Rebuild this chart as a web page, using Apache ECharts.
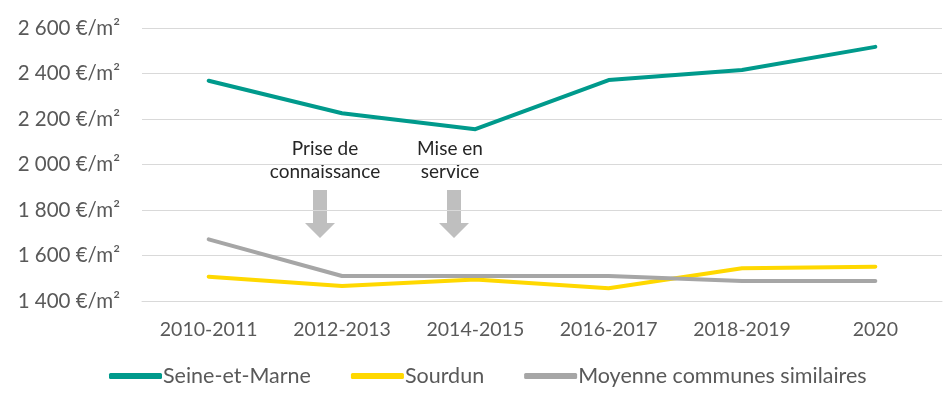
<!DOCTYPE html>
<html>
<head>
<meta charset="utf-8">
<script src="https://cdn.jsdelivr.net/npm/echarts@6/dist/echarts.min.js"></script>
<style>
  html, body { margin: 0; padding: 0; background: #ffffff; }
  #chart { width: 944px; height: 397px; }
</style>
</head>
<body>
<div id="chart"></div>
<script>
// Prix moyen au m² par période
const categories = ['2010-2011', '2012-2013', '2014-2015', '2016-2017', '2018-2019', '2020'];
const seineEtMarne = [2368, 2225, 2155, 2371, 2415, 2517];
const sourdun = [1507, 1466, 1495, 1456, 1544, 1551];
const moyenneCommunes = [1671, 1510, 1510, 1510, 1488, 1488];
const yTicks = [1400, 1600, 1800, 2000, 2200, 2400, 2600];

const FONT = 'Lato';

function fmtEuro(v) {
  return String(v).replace(/\B(?=(\d{3})+(?!\d))/g, ' ') + ' €/m²';
}

function lineSeries(name, data, color) {
  return {
    name: name,
    type: 'line',
    data: data,
    symbol: 'none',
    lineStyle: { width: 4, color: color, cap: 'round', join: 'round' },
    itemStyle: { color: color },
    z: name === 'Seine-et-Marne' ? 3 : 2
  };
}

// Flèche grise pointant vers le bas
function downArrow(cx, top) {
  return {
    type: 'polygon',
    shape: {
      points: [
        [cx - 7, top], [cx + 7, top], [cx + 7, top + 33],
        [cx + 15, top + 33], [cx, top + 48], [cx - 15, top + 33],
        [cx - 7, top + 33]
      ]
    },
    style: { fill: '#bfbfbf' }
  };
}

function note(text, cx, y) {
  return {
    type: 'text', x: cx, y: y,
    style: {
      text: text, fontFamily: FONT, fontSize: 19,
      fill: '#262626', align: 'center', verticalAlign: 'top', lineHeight: 23
    }
  };
}

const chart = echarts.init(document.getElementById('chart'));
chart.setOption({
  animation: false,
  backgroundColor: '#ffffff',
  textStyle: { fontFamily: FONT },
  grid: { left: 142, right: 2, top: 28, bottom: 96 },
  legend: {
    bottom: 5,
    left: 104,
    itemWidth: 53,
    itemHeight: 6,
    itemGap: 40,
    icon: 'roundRect',
    textStyle: { fontFamily: FONT, fontSize: 21.5, color: '#595959', padding: [0, 0, 0, -4] },
    data: ['Seine-et-Marne', 'Sourdun', 'Moyenne communes similaires']
  },
  xAxis: {
    type: 'category',
    data: categories,
    boundaryGap: true,
    axisLine: { lineStyle: { color: '#d9d9d9', width: 1 } },
    axisTick: { show: false },
    axisLabel: { fontFamily: FONT, fontSize: 19.5, color: '#595959', margin: 19 }
  },
  yAxis: {
    type: 'value',
    min: yTicks[0],
    max: yTicks[yTicks.length - 1],
    interval: 200,
    axisLine: { show: false },
    axisTick: { show: false },
    splitLine: { lineStyle: { color: '#d9d9d9', width: 1 } },
    axisLabel: {
      fontFamily: FONT, fontSize: 20.5, color: '#595959', margin: 22,
      formatter: fmtEuro
    }
  },
  series: [
    lineSeries('Seine-et-Marne', seineEtMarne, '#009a8c'),
    lineSeries('Sourdun', sourdun, '#ffd800'),
    lineSeries('Moyenne communes similaires', moyenneCommunes, '#a6a6a6')
  ],
  graphic: [
    note('Prise de\nconnaissance', 325, 137),
    note('Mise en\nservice', 450, 137),
    downArrow(320, 190),
    downArrow(454, 190)
  ]
});
</script>
</body>
</html>
